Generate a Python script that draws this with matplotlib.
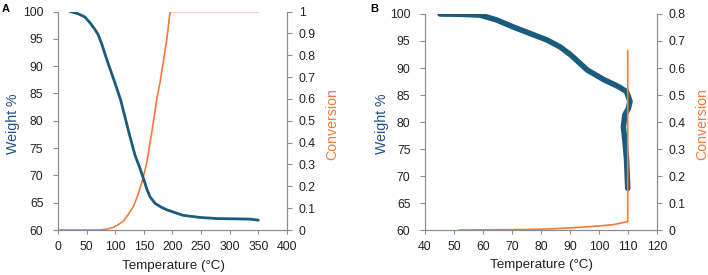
import matplotlib
matplotlib.use('Agg')
import matplotlib.pyplot as plt

plt.rcParams['font.family'] = ['Liberation Sans', 'DejaVu Sans']

# Panel A data
a_temp_w = [21, 35, 47, 57, 64.6, 70, 76, 85, 99.6, 109.5, 117, 125.8, 134.5, 143.2, 149,
            154.9, 160.7, 169.4, 180, 190, 218, 248, 277, 335, 350]
a_weight = [100, 99.6, 99.0, 97.8, 96.7, 95.8, 94.2, 91.3, 86.9, 83.8, 80.7, 77.1, 73.7, 71.3, 69.5,
            67.6, 66.1, 64.9, 64.2, 63.7, 62.7, 62.3, 62.1, 62.0, 61.8]
a_temp_c = [0, 40, 73, 85, 96.6, 105, 114, 122, 131.5, 139, 146, 155, 163.6, 172.4, 178,
            184, 189.9, 195.6, 198, 250, 300, 350]
a_conv = [0, 0, 0, 0.004, 0.012, 0.024, 0.04, 0.068, 0.107, 0.155, 0.214, 0.306, 0.443, 0.596, 0.671,
          0.77, 0.87, 0.992, 1.0, 1.0, 1.0, 1.0]

# Panel B data
b_temp_w = [45.2, 52, 59, 64.7, 70.4, 76.2, 82, 86.6, 90.3, 96, 101.8, 105, 107.2, 109.5,
            110.7, 110.1, 108.9, 108.4, 109, 109.5, 109.9]
b_weight = [100, 99.95, 99.8, 98.9, 97.6, 96.4, 95.2, 93.9, 92.4, 89.6, 87.8, 87.0, 86.4, 85.6,
            83.8, 82.5, 81.3, 79.1, 76.1, 73.0, 67.7]
b_temp_c = [51.7, 65, 75, 83, 90, 96, 100, 105, 109.9, 109.9]
b_conv = [0, 0.001, 0.002, 0.004, 0.008, 0.012, 0.015, 0.02, 0.031, 0.664]

blue = '#1b5c7e'
orange = '#f47a3c'
label_blue = '#1f4e8c'
grey = '#8c8c8c'
fs = 8.8
lfs = 10.2
W, H = 708, 275

fig = plt.figure(figsize=(7.08, 2.75), dpi=100)


def style(ax, ax2):
    ax.spines['top'].set_visible(False)
    ax2.spines['top'].set_visible(False)
    for s in ['left', 'bottom', 'right']:
        ax.spines[s].set_color(grey)
        ax2.spines[s].set_color(grey)
    ax.tick_params(axis='y', length=3.5, color=grey, labelsize=fs, labelcolor='#222222', pad=7)
    ax.tick_params(axis='x', length=3, color=grey, labelsize=fs, labelcolor='#222222', pad=5)
    ax2.tick_params(axis='y', length=3.5, color=grey, labelsize=fs, labelcolor='#222222', pad=5)


def labels(xc_w, xc_c, yc, xc_t, yc_t):
    fig.text(xc_w / W, 1 - yc / H, 'Weight %', fontsize=lfs, color=label_blue,
             rotation=90, ha='center', va='center')
    fig.text(xc_c / W, 1 - yc / H, 'Conversion', fontsize=lfs, color=orange,
             rotation=90, ha='center', va='center')
    fig.text(xc_t / W, 1 - yc_t / H, 'Temperature (°C)', fontsize=9.6, color='#222222',
             ha='center', va='center')


# Panel A
ax = fig.add_axes([0.0819, 0.1636, 0.3234, 0.7945])
ax2 = ax.twinx()
ax.plot(a_temp_w, a_weight, color=blue, lw=2.0, solid_capstyle='round', solid_joinstyle='round', zorder=3)
ax2.plot(a_temp_c, a_conv, color=orange, lw=1.2)
ax.set_zorder(ax2.get_zorder() + 1)
ax.patch.set_visible(False)
ax.set_xlim(0, 400)
ax.set_ylim(60, 100)
ax.set_xticks(range(0, 401, 50))
ax.set_yticks(range(60, 101, 5))
ax2.set_ylim(0, 1)
ax2.set_yticks([i / 10 for i in range(11)])
ax2.set_yticklabels(['0'] + [f'{i / 10:g}' for i in range(1, 10)] + ['1'])
style(ax, ax2)
labels(12.8, 332.5, 124, 174, 266)
fig.text(0.003, 0.985, 'A', fontsize=8, fontweight='bold', va='top')

# Panel B
bx = fig.add_axes([0.6003, 0.1636, 0.3277, 0.7855])
bx2 = bx.twinx()
bx.plot(b_temp_w, b_weight, color=blue, lw=4.0, solid_capstyle='round', solid_joinstyle='round', zorder=3)
bx2.plot(b_temp_c, b_conv, color=orange, lw=1.2)
bx.set_xlim(40, 120)
bx.set_ylim(60, 100)
bx.set_xticks(range(40, 121, 10))
bx.set_yticks(range(60, 101, 5))
bx2.set_ylim(0, 0.8)
bx2.set_yticks([i / 10 for i in range(9)])
bx2.set_yticklabels(['0'] + [f'{i / 10:g}' for i in range(1, 9)])
style(bx, bx2)
labels(381.5, 702.5, 124, 541, 265)
fig.text(0.523, 0.985, 'B', fontsize=8, fontweight='bold', va='top')

fig.savefig('out.png', dpi=100)
